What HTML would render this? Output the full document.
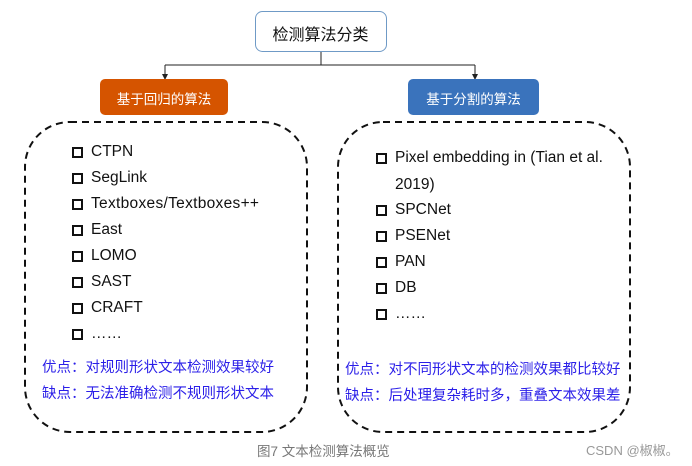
<!DOCTYPE html>
<html><head><meta charset="utf-8"><style>
body{margin:0;width:692px;height:466px;background:#fff;position:relative;overflow:hidden;font-family:"Liberation Sans","Noto Sans CJK SC",sans-serif}
.a{position:absolute;white-space:nowrap}
.it{position:absolute;font-size:15.5px;color:#111;line-height:16px;white-space:nowrap}
.it:before{content:"";position:absolute;left:-19px;top:3px;width:7px;height:7px;border:2px solid #111}
.adv{position:absolute;font-size:14.5px;color:#2a1ee8;white-space:nowrap}
</style></head><body>
<svg width="692" height="466" style="position:absolute;left:0;top:0">
<rect x="255.5" y="11.5" width="131" height="40" rx="7" fill="#fff" stroke="#6f9ac6"/>
<path d="M321 52V65M165 65H475M165 65V76M475 65V76" stroke="#222" fill="none"/>
<path d="M162 74L165 80L168 74Z M472 74L475 80L478 74Z" fill="#222"/>
<rect x="100" y="79" width="128" height="36" rx="5" fill="#d55400"/>
<rect x="408" y="79" width="131" height="36" rx="5" fill="#3a73bc"/>
<rect x="25" y="122" width="282" height="310" rx="45" fill="none" stroke="#111" stroke-width="2" stroke-dasharray="7,5"/>
<rect x="338" y="122" width="292" height="310" rx="45" fill="none" stroke="#111" stroke-width="2" stroke-dasharray="7,5"/>
</svg>
<div class="a" style="left:255px;top:21px;width:131px;text-align:center;font-size:16px;color:#111">检测算法分类</div>
<div class="a" style="left:100px;top:88px;width:128px;text-align:center;font-size:13.5px;color:#fff">基于回归的算法</div>
<div class="a" style="left:408px;top:88px;width:131px;text-align:center;font-size:13.5px;color:#fff">基于分割的算法</div>
<div class="it" style="left:91px;top:144px">CTPN</div>
<div class="it" style="left:91px;top:170px">SegLink</div>
<div class="it" style="left:91px;top:196px;letter-spacing:0.3px">Textboxes/Textboxes++</div>
<div class="it" style="left:91px;top:222px">East</div>
<div class="it" style="left:91px;top:248px">LOMO</div>
<div class="it" style="left:91px;top:274px">SAST</div>
<div class="it" style="left:91px;top:300px">CRAFT</div>
<div class="it" style="left:91px;top:326px">……</div>
<div class="it" style="left:395px;top:150px">Pixel embedding in (Tian et al.</div>
<div class="a" style="left:395px;top:176px;font-size:15.5px;color:#111">2019)</div>
<div class="it" style="left:395px;top:202px">SPCNet</div>
<div class="it" style="left:395px;top:228px">PSENet</div>
<div class="it" style="left:395px;top:254px">PAN</div>
<div class="it" style="left:395px;top:280px">DB</div>
<div class="it" style="left:395px;top:306px">……</div>
<div class="adv" style="left:42px;top:356px">优点：对规则形状文本检测效果较好</div>
<div class="adv" style="left:42px;top:382px">缺点：无法准确检测不规则形状文本</div>
<div class="adv" style="left:345px;top:358px">优点：对不同形状文本的检测效果都比较好</div>
<div class="adv" style="left:345px;top:384px">缺点：后处理复杂耗时多，重叠文本效果差</div>
<div class="a" style="left:257px;top:440px;font-size:13.5px;color:#777">图7 文本检测算法概览</div>
<div class="a" style="left:586px;top:440px;font-size:13px;color:#999">CSDN @椒椒。</div>
</body></html>
